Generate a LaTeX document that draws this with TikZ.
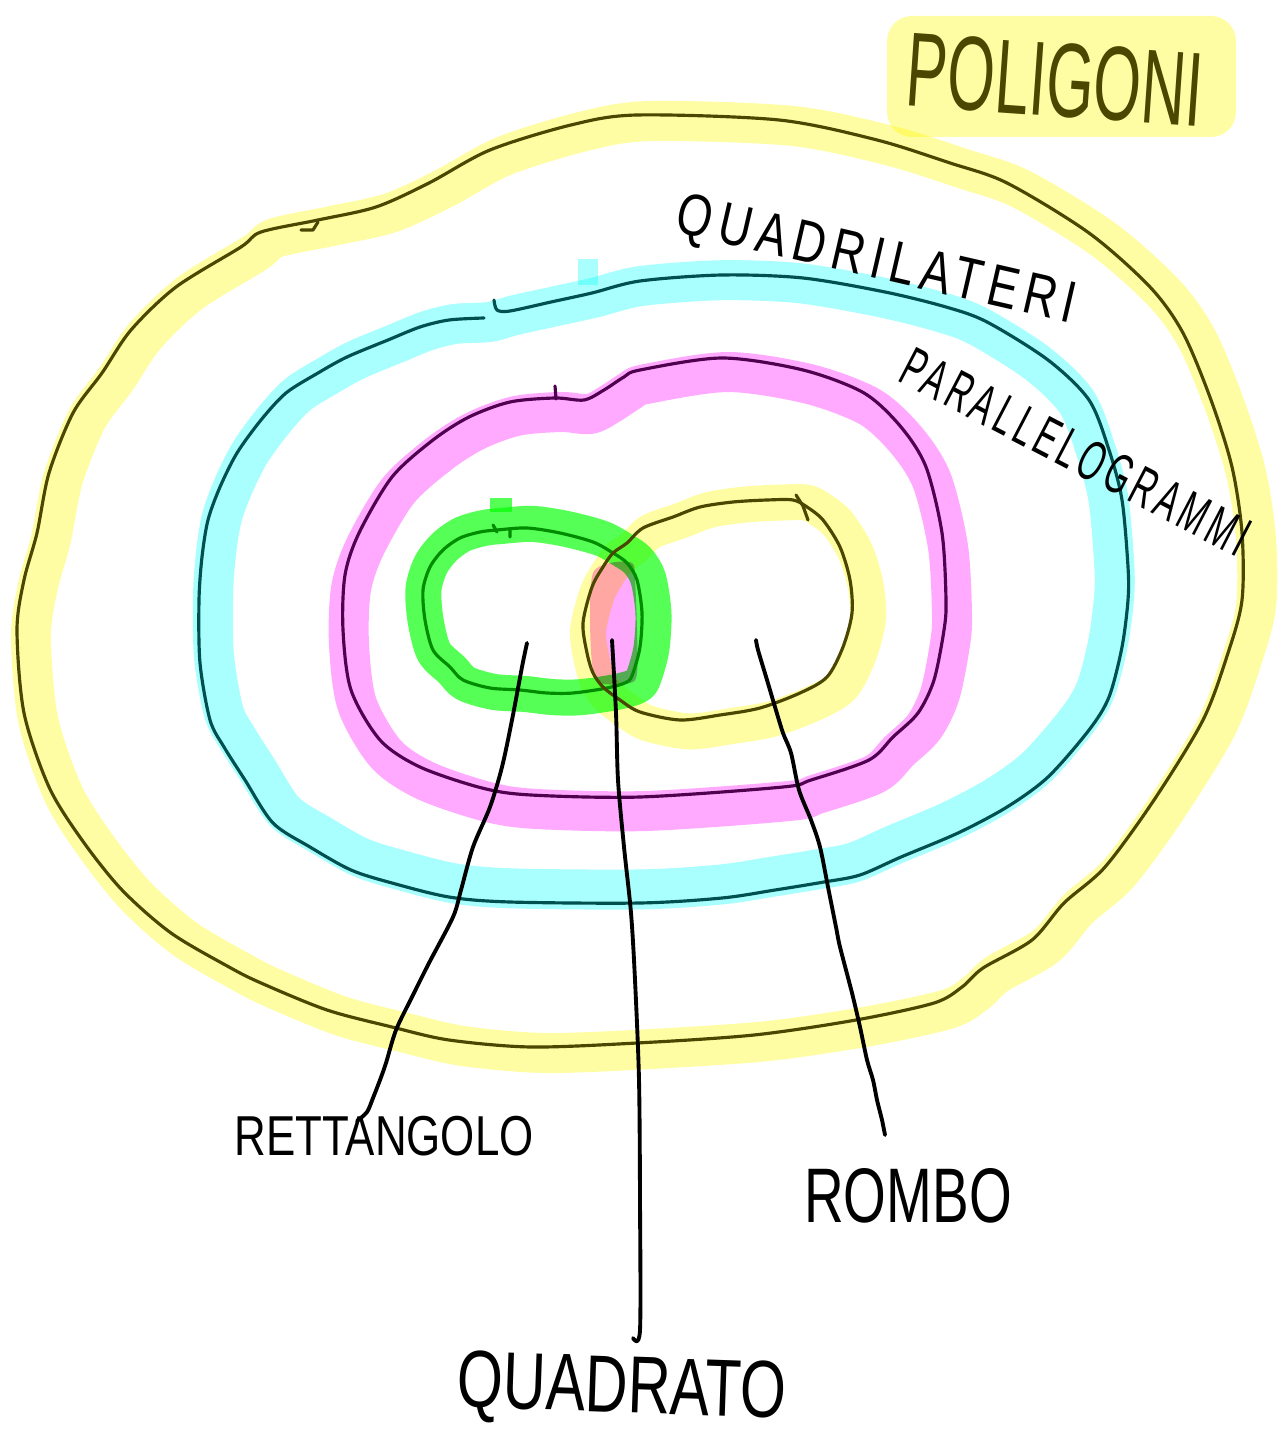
\documentclass[tikz,border=0pt]{standalone}
\usepackage{fontspec}
\usepackage{graphicx}
\usepackage{tikz}
\usetikzlibrary{calc}
\newfontfamily\handfont{Liberation Sans}
\definecolor{polyyellow}{HTML}{FFFDA3}
\definecolor{quadcyan}{HTML}{A9FFFD}
\definecolor{paramagenta}{HTML}{FFAAFF}
\definecolor{rectgreen}{HTML}{55FF55}
\definecolor{polyink}{HTML}{4B4700}
\definecolor{quadink}{HTML}{005050}
\definecolor{paraink}{HTML}{4F004F}
\definecolor{rectink}{HTML}{008C00}

% hand drawn loops, one macro each (options, plot type [, leading points])
\newcommand{\polyloop}[2]{\draw[#1] plot[#2] coordinates {(637,115) (779,120) (877,140) (950,163) (1007,183) (1089,233) (1150,287) (1183,333) (1211,400) (1232,467) (1242,533) (1242,600) (1228,653) (1203,720) (1154,800) (1105,867) (1064,903) (1032,940) (983,968) (962,987) (934,1003) (856,1020) (754,1035) (637,1043) (531,1047) (449,1040) (392,1027) (327,1010) (261,983) (229,967) (171,933) (122,890) (82,840) (49,787) (24,713) (17,630) (24,580) (37,533) (49,473) (73,413) (102,373) (131,330) (176,287) (241,247) (261,232) (318,220) (376,207) (429,183) (490,150) (571,125)};}
\newcommand{\quadloop}[3]{\draw[#1] plot[#2] coordinates {#3 (510,311) (551,302) (592,293) (640,281) (722,275) (803,278) (885,292) (946,307) (987,322) (1048,360) (1089,400) (1109,450) (1122,500) (1128,567) (1128,600) (1122,647) (1109,697) (1089,730) (1048,777) (1007,807) (958,833) (901,857) (860,875) (824,882) (775,890) (722,898) (640,903) (510,902) (449,897) (392,883) (351,870) (310,847) (273,823) (245,780) (224,747) (210,720) (200,663) (199,600) (202,557) (208,520) (220,487) (237,453) (261,420) (286,393) (318,373) (347,357) (388,340) (420,327) (449,320) (484,318)};}
\newcommand{\paraloop}[2]{\draw[#1] plot[#2] coordinates {(640,370) (722,358) (803,370) (864,393) (901,427) (926,467) (942,533) (946,600) (944,630) (934,680) (918,713) (893,737) (869,760) (811,780) (783,787) (640,797) (531,795) (482,788) (420,767) (380,740) (351,690) (343,630) (345,575) (359,533) (392,477) (433,440) (469,417) (510,402) (555,398) (584,400) (604,390) (624,377)};}
\newcommand{\rectloop}[2]{\draw[#1] plot[#2] coordinates {(497,530) (527,528) (560,533) (593,542) (613,553) (627,563) (637,580) (642,613) (640,647) (633,673) (627,682) (607,688) (573,693) (547,693) (520,690) (490,688) (463,680) (450,667) (433,650) (425,620) (423,590) (430,567) (443,550) (460,538) (480,532)};}
\newcommand{\rhomloop}[2]{\draw[#1] plot[#2] coordinates {(767,500) (733,502) (700,507) (673,517) (643,528) (627,543) (613,553) (603,567) (592,587) (583,623) (587,653) (593,673) (603,687) (620,700) (640,712) (680,720) (720,715) (760,708) (800,693) (827,677) (843,647) (852,613) (850,580) (840,547) (823,520) (807,507) (793,500)};}

\begin{document}
\begin{tikzpicture}[
  x=0.01cm, y=-0.01cm,
  font=\handfont,
  hiband/.style={line width=0.40cm, line join=round, line cap=round, blend mode=multiply},
  hifill/.style={blend mode=multiply},
  loopline/.style={line width=0.9pt, line join=round, line cap=round},
  pointer/.style={draw=black, line width=1.1pt, line cap=round, line join=round},
  handlabel/.style={inner sep=0pt, text=black}
]
  \useasboundingbox (0,0) rectangle (1281,1434);

  % highlighter strokes
  \polyloop{hiband, draw=polyyellow, shift={(14,6)}}{smooth cycle}
  \fill[hifill, polyyellow, rounded corners=0.25cm] (887,16) rectangle (1236,137);
  \quadloop{hiband, draw=quadcyan, scale around={0.97:(667,450)}}{smooth cycle}{}
  \fill[hifill, quadcyan] (578,259) rectangle (598,285);
  \paraloop{hiband, draw=paramagenta, shift={(6,14)}}{smooth cycle}
  \fill[hifill, paramagenta] plot[smooth cycle] coordinates {(593,573) (610,563) (632,563) (635,580) (637,630) (637,673) (630,683) (600,683) (592,663) (590,613)};
  \rectloop{hiband, line width=0.36cm, draw=rectgreen, shift={(6,0)}, scale around={1.05:(533,610)}}{smooth cycle}
  \fill[hifill, rectgreen] (490,498) rectangle (512,512);
  \rhomloop{hiband, line width=0.36cm, draw=polyyellow, shift={(5,5)}, scale around={1.04:(583,560)}}{smooth cycle}

  % pen outlines
  \polyloop{loopline, draw=polyink}{smooth cycle}
  \draw[loopline, polyink] (301,230) -- (313,230) -- (318,222);
  \quadloop{loopline, draw=quadink}{smooth}{(494,300) (497,310)}
  \paraloop{loopline, draw=paraink}{smooth cycle}
  \draw[loopline, paraink] (555,386) -- (556,399);
  \rectloop{loopline, draw=rectink}{smooth cycle}
  \draw[loopline, rectink] (493,525) -- (497,532) (510,530) -- (510,537);
  \rhomloop{loopline, draw=polyink}{smooth cycle}
  \draw[loopline, polyink] (796,495) -- (803,506) -- (808,520);

  % labels
  \node[handlabel, text=polyink, rotate=-4, font={\handfont\fontsize{30pt}{30pt}\selectfont}] (poligoni) at (1055,80) {\scalebox{0.58}[1]{POLIGONI}};
  \node[handlabel, rotate=-13, font={\handfont\fontsize{16.8pt}{17pt}\selectfont\addfontfeature{LetterSpace=15}}] (quadrilateri) at (876,263) {\scalebox{0.77}[1]{QUADRILATERI}};
  \node[handlabel, rotate=-27.5, font={\handfont\fontsize{16pt}{16pt}\selectfont\addfontfeature{LetterSpace=15}}] (parallelogrammi) at (1076,452) {\scalebox{0.57}[1]{PARALLELOGRAMMI}};
  \node[handlabel, font={\handfont\fontsize{16pt}{16pt}\selectfont}] (rettangolo) at (384,1136) {\scalebox{0.78}[1]{RETTANGOLO}};
  \node[handlabel, rotate=-2, font={\handfont\fontsize{23pt}{23pt}\selectfont}] (quadrato) at (622,1392) {\scalebox{0.73}[1]{QUADRATO}};
  \node[handlabel, font={\handfont\fontsize{22pt}{22pt}\selectfont}] (rombo) at (908,1196) {\scalebox{0.71}[1]{ROMBO}};

  % pointers from the regions to their names
  \coordinate (rett-in) at (527,643);
  \coordinate (rett-out) at (357,1121);
  \coordinate (quad-in) at (612,640);
  \coordinate (quad-out) at (633,1338);
  \coordinate (rhom-in) at (756,640);
  \coordinate (rhom-out) at (885,1135);
  \draw[pointer] plot[smooth] coordinates {(rett-in) (522,667) (512,720) (502,767) (490,807) (473,847) (461,890) (453,917) (429,963) (412,997) (396,1030) (386,1063) (380,1080) (373,1098) (367,1112) (rett-out)};
  \draw[pointer] plot[smooth] coordinates {(quad-in) (616,713) (618,780) (624,847) (631,913) (635,980) (639,1080) (640,1200) (640,1330) (quad-out)};
  \draw[pointer] plot[smooth] coordinates {(rhom-in) (758,650) (767,680) (775,707) (783,733) (791,753) (799,790) (811,820) (820,847) (828,887) (836,927) (840,947) (852,993) (860,1027) (867,1060) (873,1080) (877,1100) (882,1120) (rhom-out)};
\end{tikzpicture}
\end{document}
